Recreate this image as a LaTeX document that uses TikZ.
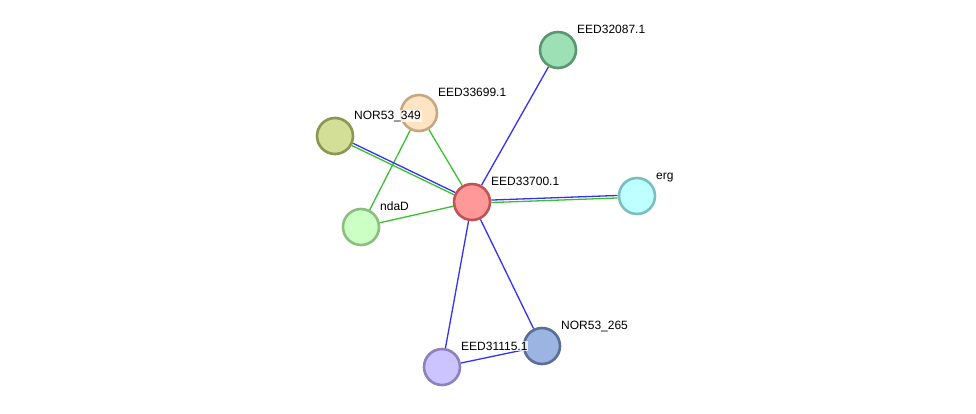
\documentclass[tikz,border=0pt]{standalone}
\usepackage{fontspec}
\setmainfont{Liberation Sans}
\usetikzlibrary{backgrounds}

\definecolor{edgeblue}{RGB}{50,50,240}
\definecolor{edgegreen}{RGB}{60,190,50}
\definecolor{redfill}{RGB}{255,153,153}
\definecolor{redline}{RGB}{190,85,85}
\definecolor{mintfill}{RGB}{157,224,182}
\definecolor{mintline}{RGB}{90,150,112}
\definecolor{peachfill}{RGB}{255,228,196}
\definecolor{peachline}{RGB}{196,168,128}
\definecolor{olivefill}{RGB}{211,222,150}
\definecolor{oliveline}{RGB}{138,150,82}
\definecolor{limefill}{RGB}{204,255,196}
\definecolor{limeline}{RGB}{140,190,128}
\definecolor{cyanfill}{RGB}{190,255,255}
\definecolor{cyanline}{RGB}{122,190,190}
\definecolor{bluefill}{RGB}{155,180,225}
\definecolor{blueline}{RGB}{90,110,150}
\definecolor{lavfill}{RGB}{204,196,255}
\definecolor{lavline}{RGB}{140,128,190}

\begin{document}
\begin{tikzpicture}[x=1pt, y=-1pt, prot/.style={ circle, draw,
    line width=2.6pt, minimum size=36pt, inner sep=0pt },
    lbl/.style={ anchor=base west, font=\fontsize{12}{14}\selectfont,
    fill=white, fill opacity=0.75, text opacity=1, inner sep=1pt },
    blueedge/.style={ draw=edgeblue, line width=1.3pt },
    greenedge/.style={ draw=edgegreen, line width=1.3pt } ]
  \useasboundingbox (0,0) rectangle (976,413);
  \foreach \n/\x/\y/\c in {p3700/472/202/red,p2087/558/50/mint,
    p3699/419/113/peach,n349/335/136/olive,ndaD/361/227/lime,
    erg/637/196/cyan,n265/542/346/blue,p1115/442/367/lav}
  \node[prot,fill=\c fill,draw=\c line] (\n) at (\x,\y) {};
  \begin{scope}[on background layer]
    \draw[greenedge] (p3700) -- (p3699);
    \draw[greenedge] (p3699) -- (ndaD);
    \draw[greenedge] (ndaD) -- (p3700);
    \draw[blueedge] (p3700) -- (p2087);
    \draw[blueedge] (p3700) -- (n265);
    \draw[blueedge] (p3700) -- (p1115);
    \draw[blueedge] (p1115) -- (n265);
    \draw[blueedge,transform canvas={xshift=0.55pt,yshift=1.15pt}] (n349) -- (p3700);
    \draw[greenedge,transform canvas={xshift=-0.55pt,yshift=-1.15pt}] (n349) -- (p3700);
    \draw[blueedge,transform canvas={yshift=1.25pt}] (p3700) -- (erg);
    \draw[greenedge,transform canvas={yshift=-1.25pt}] (p3700) -- (erg);
  \end{scope}
  \foreach \n/\t in {p3700/EED33700.1,p2087/EED32087.1,p3699/EED33699.1,
    n349/NOR53\_349,ndaD/ndaD,erg/erg,n265/NOR53\_265,p1115/EED31115.1}
  \node[lbl] (\n-lbl) at ([shift={(18,-17)}]\n.center) {\t};
\end{tikzpicture}
\end{document}
